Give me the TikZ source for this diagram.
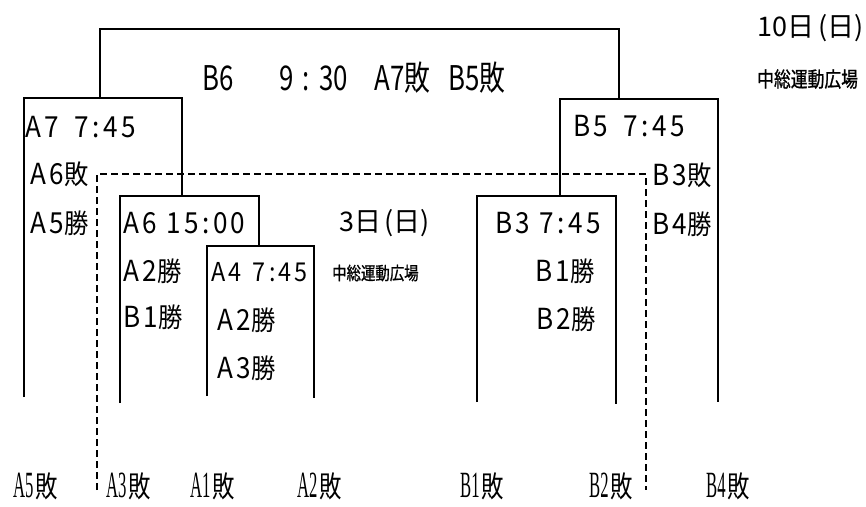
\documentclass[tikz,border=0pt]{standalone}
\usepackage{fontspec}
\usepackage{graphicx}
\newfontfamily\jp{Noto Sans CJK JP}
\newfontfamily\jpn[FakeStretch=0.8,FakeBold=1]{Noto Sans CJK JP}
\newfontfamily\jpt[FakeStretch=0.76]{Noto Sans CJK JP}
\newfontfamily\jpw[FakeStretch=0.9,LetterSpace=12]{Noto Sans CJK JP}
\newfontfamily\latserif{Liberation Serif}
\newcommand{\kj}[1]{{\fontsize{27}{27}\selectfont #1}}
\newcommand{\loser}[1]{\scalebox{0.45}[1]{\latserif\fontsize{37}{37}\selectfont #1}\hspace{2pt}\scalebox{0.8}[1.05]{\jp\fontsize{28}{28}\selectfont 敗}}
\begin{document}
\begin{tikzpicture}[x=1pt,y=-1pt]
        \tikzset{
            lbl/.style={anchor=west, inner sep=0pt, font=\jpw\fontsize{29}{29}\selectfont},
            ttl/.style={anchor=west, inner sep=0pt, font=\jpt\fontsize{34}{34}\selectfont},
            day/.style={anchor=west, inner sep=0pt, font=\jp\fontsize{27}{27}\selectfont},
            note/.style={anchor=west, inner sep=0pt, font=\jpn\fontsize{18}{18}\selectfont},
            bot/.style={anchor=west, inner sep=0pt},
            c1/.style={-, line width=1.3pt},
            c2/.style={-, line width=1.3pt, dash pattern=on 7pt off 4pt}
            }
            \useasboundingbox (0,0) rectangle (866,506);

            % bracket lines
            \draw[c1] (100,99) -- (100,29) -- (619,29) -- (619,99);
            \draw[c1] (24,397) -- (24,98) -- (182,98) -- (182,196);
            \draw[c1] (120,403) -- (120,196) -- (259,196) -- (259,246);
            \draw[c1] (207,396) -- (207,246) -- (314,246) -- (314,398);
            \draw[c1] (560,196) -- (560,99) -- (718,99) -- (718,402);
            \draw[c1] (477,402) -- (477,196) -- (616,196) -- (616,404);
            \draw[c2] (97,490) -- (97,174) -- (646,174) -- (646,490);

            % final
            \node[ttl] (b6) at (202,78) {B6\hspace{46pt}9\hspace{9pt}:\hspace{9pt}30\hspace{27pt}A7敗\hspace{18pt}B5敗};
            \node[day] (d10) at (757,28) {10日\hspace{4pt}(日)};
            \node[note, font=\jpn\fontsize{21}{21}\selectfont] (p10) at (757,79) {中総運動広場};

            % left side
            \node[lbl] (a7) at (25,127) {A7 \hspace{6pt}7:45};
            \node[lbl] (a7x) at (30,174) {A6\kj{敗}};
            \node[lbl] (a7y) at (30,223) {A5\kj{勝}};
            \node[lbl] (a6) at (123,223) {A6 15:00};
            \node[lbl] (a6x) at (123,271) {A2\kj{勝}};
            \node[lbl] (a6y) at (123,317) {B1\kj{勝}};
            \node[lbl, font=\jpw\fontsize{26}{26}\selectfont] (a4) at (211,272) {A4 \hspace{3pt}7:45};
            \node[lbl] (a4x) at (217,320) {A2\kj{勝}};
            \node[lbl] (a4y) at (217,368) {A3\kj{勝}};
            \node[day] (d3) at (339,223) {3日\hspace{3pt}(日)};
            \node[note] (p3) at (332,273) {中総運動広場};

            % right side
            \node[lbl] (b5) at (573,126) {B5 \hspace{6pt}7:45};
            \node[lbl] (b5x) at (652,175) {B3\kj{敗}};
            \node[lbl] (b5y) at (652,224) {B4\kj{勝}};
            \node[lbl] (b3) at (495,223) {B3 7:45};
            \node[lbl] (b3x) at (535,271) {B1\kj{勝}};
            \node[lbl] (b3y) at (536,319) {B2\kj{勝}};

            % first round losers
            \node[bot] (l1) at (13,486) {\loser{A5}};
            \node[bot] (l2) at (106,486) {\loser{A3}};
            \node[bot] (l3) at (190,486) {\loser{A1}};
            \node[bot] (l4) at (297,486) {\loser{A2}};
            \node[bot] (l5) at (460,486) {\loser{B1}};
            \node[bot] (l6) at (589,486) {\loser{B2}};
            \node[bot] (l7) at (706,486) {\loser{B4}};
        \end{tikzpicture}
\end{document}
